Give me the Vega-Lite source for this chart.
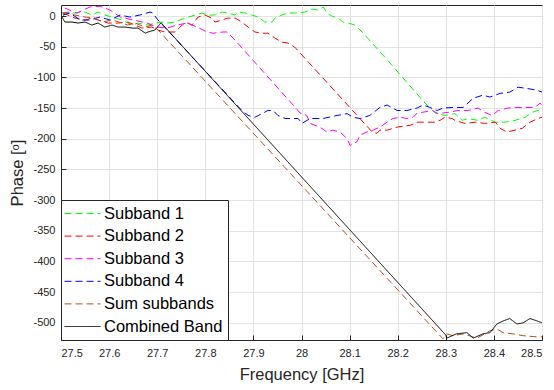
{
"$schema": "https://vega.github.io/schema/vega-lite/v6.json",
"width": 481, "height": 335,
"autosize": "none",
"padding": {"left": 61, "top": 5, "right": 12, "bottom": 50},
"config": {"font": "Liberation Sans", "view": {"stroke": "#262626", "strokeWidth": 1},
  "axis": {"domainColor": "#262626", "tickColor": "#262626", "labelColor": "#262626", "titleColor": "#262626", "labelFontSize": 11, "titleFontSize": 16.5, "titleFontWeight": "normal", "gridColor": "#E3E3E3", "tickSize": -5}},
"datasets": {"d": [
{"s":"Subband 1","f":27.504,"p":1.6},{"s":"Subband 1","f":27.519,"p":6.5},{"s":"Subband 1","f":27.529,"p":4.9},{"s":"Subband 1","f":27.55,"p":6.5},{"s":"Subband 1","f":27.564,"p":1.6},{"s":"Subband 1","f":27.577,"p":6.5},{"s":"Subband 1","f":27.591,"p":1.6},{"s":"Subband 1","f":27.606,"p":-1.6},{"s":"Subband 1","f":27.627,"p":-6.5},{"s":"Subband 1","f":27.648,"p":-14.7},{"s":"Subband 1","f":27.66,"p":-11.4},{"s":"Subband 1","f":27.681,"p":-14.7},{"s":"Subband 1","f":27.695,"p":-11.4},{"s":"Subband 1","f":27.71,"p":-9.8},{"s":"Subband 1","f":27.722,"p":-11.4},{"s":"Subband 1","f":27.737,"p":-9.8},{"s":"Subband 1","f":27.747,"p":-6.5},{"s":"Subband 1","f":27.758,"p":-3.3},{"s":"Subband 1","f":27.779,"p":1.6},{"s":"Subband 1","f":27.793,"p":4.9},{"s":"Subband 1","f":27.806,"p":1.6},{"s":"Subband 1","f":27.82,"p":1.6},{"s":"Subband 1","f":27.835,"p":6.5},{"s":"Subband 1","f":27.847,"p":4.9},{"s":"Subband 1","f":27.862,"p":1.6},{"s":"Subband 1","f":27.868,"p":6.5},{"s":"Subband 1","f":27.883,"p":4.9},{"s":"Subband 1","f":27.897,"p":1.6},{"s":"Subband 1","f":27.91,"p":-1.6},{"s":"Subband 1","f":27.924,"p":-9.8},{"s":"Subband 1","f":27.939,"p":-9.8},{"s":"Subband 1","f":27.945,"p":-3.3},{"s":"Subband 1","f":27.959,"p":1.6},{"s":"Subband 1","f":27.972,"p":4.9},{"s":"Subband 1","f":27.986,"p":4.9},{"s":"Subband 1","f":28.007,"p":6.5},{"s":"Subband 1","f":28.022,"p":11.4},{"s":"Subband 1","f":28.034,"p":9.8},{"s":"Subband 1","f":28.045,"p":14.7},{"s":"Subband 1","f":28.053,"p":4.9},{"s":"Subband 1","f":28.063,"p":0},{"s":"Subband 1","f":28.076,"p":-3.3},{"s":"Subband 1","f":28.086,"p":-9.8},{"s":"Subband 1","f":28.097,"p":-11.4},{"s":"Subband 1","f":28.111,"p":-14.7},{"s":"Subband 1","f":28.126,"p":-26},{"s":"Subband 1","f":28.18,"p":-73},{"s":"Subband 1","f":28.257,"p":-142},{"s":"Subband 1","f":28.278,"p":-158},{"s":"Subband 1","f":28.298,"p":-162},{"s":"Subband 1","f":28.319,"p":-159},{"s":"Subband 1","f":28.334,"p":-170},{"s":"Subband 1","f":28.346,"p":-167},{"s":"Subband 1","f":28.367,"p":-170},{"s":"Subband 1","f":28.381,"p":-165},{"s":"Subband 1","f":28.403,"p":-173},{"s":"Subband 1","f":28.423,"p":-173},{"s":"Subband 1","f":28.444,"p":-170},{"s":"Subband 1","f":28.465,"p":-165},{"s":"Subband 1","f":28.479,"p":-157},{"s":"Subband 1","f":28.492,"p":-154},{"s":"Subband 1","f":28.5,"p":-150},
{"s":"Subband 2","f":27.504,"p":4.9},{"s":"Subband 2","f":27.529,"p":-3.3},{"s":"Subband 2","f":27.55,"p":-6.5},{"s":"Subband 2","f":27.564,"p":-3.3},{"s":"Subband 2","f":27.577,"p":-6.5},{"s":"Subband 2","f":27.598,"p":-11.4},{"s":"Subband 2","f":27.619,"p":-11.4},{"s":"Subband 2","f":27.639,"p":-9.8},{"s":"Subband 2","f":27.654,"p":-14.7},{"s":"Subband 2","f":27.668,"p":-19.6},{"s":"Subband 2","f":27.689,"p":-18},{"s":"Subband 2","f":27.702,"p":-22.9},{"s":"Subband 2","f":27.716,"p":-26},{"s":"Subband 2","f":27.737,"p":-26},{"s":"Subband 2","f":27.752,"p":-14.7},{"s":"Subband 2","f":27.764,"p":-11.4},{"s":"Subband 2","f":27.772,"p":-14.7},{"s":"Subband 2","f":27.785,"p":-1.6},{"s":"Subband 2","f":27.799,"p":1.6},{"s":"Subband 2","f":27.814,"p":-3.3},{"s":"Subband 2","f":27.82,"p":-9.8},{"s":"Subband 2","f":27.835,"p":-6.5},{"s":"Subband 2","f":27.847,"p":-3.3},{"s":"Subband 2","f":27.862,"p":-3.3},{"s":"Subband 2","f":27.876,"p":-9.8},{"s":"Subband 2","f":27.889,"p":-18},{"s":"Subband 2","f":27.903,"p":-26},{"s":"Subband 2","f":27.918,"p":-28},{"s":"Subband 2","f":27.93,"p":-28},{"s":"Subband 2","f":27.945,"p":-36},{"s":"Subband 2","f":27.959,"p":-42.5},{"s":"Subband 2","f":27.972,"p":-44},{"s":"Subband 2","f":27.986,"p":-50.7},{"s":"Subband 2","f":28.147,"p":-189},{"s":"Subband 2","f":28.157,"p":-191},{"s":"Subband 2","f":28.163,"p":-186},{"s":"Subband 2","f":28.178,"p":-186},{"s":"Subband 2","f":28.199,"p":-181},{"s":"Subband 2","f":28.226,"p":-178},{"s":"Subband 2","f":28.242,"p":-173},{"s":"Subband 2","f":28.257,"p":-173},{"s":"Subband 2","f":28.278,"p":-173},{"s":"Subband 2","f":28.288,"p":-170},{"s":"Subband 2","f":28.298,"p":-165},{"s":"Subband 2","f":28.313,"p":-167},{"s":"Subband 2","f":28.319,"p":-170},{"s":"Subband 2","f":28.34,"p":-175},{"s":"Subband 2","f":28.361,"p":-173},{"s":"Subband 2","f":28.381,"p":-175},{"s":"Subband 2","f":28.403,"p":-173},{"s":"Subband 2","f":28.413,"p":-183},{"s":"Subband 2","f":28.427,"p":-189},{"s":"Subband 2","f":28.444,"p":-186},{"s":"Subband 2","f":28.459,"p":-183},{"s":"Subband 2","f":28.475,"p":-173},{"s":"Subband 2","f":28.492,"p":-167},{"s":"Subband 2","f":28.5,"p":-165},
{"s":"Subband 3","f":27.508,"p":13},{"s":"Subband 3","f":27.533,"p":4.9},{"s":"Subband 3","f":27.56,"p":14.7},{"s":"Subband 3","f":27.581,"p":16},{"s":"Subband 3","f":27.602,"p":9.8},{"s":"Subband 3","f":27.623,"p":-1.6},{"s":"Subband 3","f":27.65,"p":-6.5},{"s":"Subband 3","f":27.679,"p":-11.4},{"s":"Subband 3","f":27.7,"p":-18},{"s":"Subband 3","f":27.72,"p":-19.6},{"s":"Subband 3","f":27.741,"p":-14.7},{"s":"Subband 3","f":27.762,"p":-11.4},{"s":"Subband 3","f":27.783,"p":-18},{"s":"Subband 3","f":27.804,"p":-26},{"s":"Subband 3","f":27.816,"p":-28},{"s":"Subband 3","f":27.837,"p":-26},{"s":"Subband 3","f":27.845,"p":-26},{"s":"Subband 3","f":27.858,"p":-36},{"s":"Subband 3","f":27.986,"p":-148},{"s":"Subband 3","f":27.997,"p":-158},{"s":"Subband 3","f":28.011,"p":-162},{"s":"Subband 3","f":28.018,"p":-175},{"s":"Subband 3","f":28.038,"p":-181},{"s":"Subband 3","f":28.053,"p":-189},{"s":"Subband 3","f":28.065,"p":-186},{"s":"Subband 3","f":28.08,"p":-189},{"s":"Subband 3","f":28.095,"p":-200},{"s":"Subband 3","f":28.101,"p":-211},{"s":"Subband 3","f":28.115,"p":-205},{"s":"Subband 3","f":28.122,"p":-194},{"s":"Subband 3","f":28.136,"p":-189},{"s":"Subband 3","f":28.149,"p":-186},{"s":"Subband 3","f":28.163,"p":-181},{"s":"Subband 3","f":28.178,"p":-173},{"s":"Subband 3","f":28.19,"p":-167},{"s":"Subband 3","f":28.205,"p":-165},{"s":"Subband 3","f":28.219,"p":-167},{"s":"Subband 3","f":28.232,"p":-165},{"s":"Subband 3","f":28.242,"p":-157},{"s":"Subband 3","f":28.251,"p":-157},{"s":"Subband 3","f":28.272,"p":-154},{"s":"Subband 3","f":28.284,"p":-159},{"s":"Subband 3","f":28.305,"p":-157},{"s":"Subband 3","f":28.325,"p":-154},{"s":"Subband 3","f":28.346,"p":-154},{"s":"Subband 3","f":28.367,"p":-150},{"s":"Subband 3","f":28.381,"p":-157},{"s":"Subband 3","f":28.396,"p":-162},{"s":"Subband 3","f":28.409,"p":-154},{"s":"Subband 3","f":28.429,"p":-150},{"s":"Subband 3","f":28.45,"p":-149},{"s":"Subband 3","f":28.471,"p":-149},{"s":"Subband 3","f":28.485,"p":-149},{"s":"Subband 3","f":28.496,"p":-142},{"s":"Subband 3","f":28.5,"p":-145},
{"s":"Subband 4","f":27.504,"p":1.6},{"s":"Subband 4","f":27.519,"p":4.9},{"s":"Subband 4","f":27.54,"p":-6.5},{"s":"Subband 4","f":27.56,"p":-6.5},{"s":"Subband 4","f":27.581,"p":-1.6},{"s":"Subband 4","f":27.602,"p":-6.5},{"s":"Subband 4","f":27.623,"p":1.6},{"s":"Subband 4","f":27.643,"p":-1.6},{"s":"Subband 4","f":27.664,"p":1.6},{"s":"Subband 4","f":27.685,"p":6.5},{"s":"Subband 4","f":27.691,"p":4.9},{"s":"Subband 4","f":27.7,"p":-5},{"s":"Subband 4","f":27.876,"p":-154},{"s":"Subband 4","f":27.889,"p":-162},{"s":"Subband 4","f":27.903,"p":-165},{"s":"Subband 4","f":27.918,"p":-159},{"s":"Subband 4","f":27.93,"p":-154},{"s":"Subband 4","f":27.941,"p":-154},{"s":"Subband 4","f":27.951,"p":-162},{"s":"Subband 4","f":27.966,"p":-167},{"s":"Subband 4","f":27.98,"p":-167},{"s":"Subband 4","f":27.993,"p":-167},{"s":"Subband 4","f":28.001,"p":-175},{"s":"Subband 4","f":28.018,"p":-167},{"s":"Subband 4","f":28.045,"p":-167},{"s":"Subband 4","f":28.074,"p":-162},{"s":"Subband 4","f":28.095,"p":-159},{"s":"Subband 4","f":28.107,"p":-165},{"s":"Subband 4","f":28.122,"p":-167},{"s":"Subband 4","f":28.142,"p":-162},{"s":"Subband 4","f":28.163,"p":-149},{"s":"Subband 4","f":28.178,"p":-145},{"s":"Subband 4","f":28.199,"p":-154},{"s":"Subband 4","f":28.219,"p":-154},{"s":"Subband 4","f":28.24,"p":-150},{"s":"Subband 4","f":28.253,"p":-145},{"s":"Subband 4","f":28.267,"p":-149},{"s":"Subband 4","f":28.282,"p":-154},{"s":"Subband 4","f":28.294,"p":-150},{"s":"Subband 4","f":28.315,"p":-149},{"s":"Subband 4","f":28.336,"p":-149},{"s":"Subband 4","f":28.357,"p":-134},{"s":"Subband 4","f":28.377,"p":-129},{"s":"Subband 4","f":28.392,"p":-132},{"s":"Subband 4","f":28.413,"p":-126},{"s":"Subband 4","f":28.433,"p":-124},{"s":"Subband 4","f":28.45,"p":-116},{"s":"Subband 4","f":28.469,"p":-118},{"s":"Subband 4","f":28.49,"p":-121},{"s":"Subband 4","f":28.5,"p":-124},
{"s":"Sum subbands","f":27.502,"p":4.9},{"s":"Sum subbands","f":27.515,"p":6.5},{"s":"Sum subbands","f":27.529,"p":1.6},{"s":"Sum subbands","f":27.55,"p":-1.6},{"s":"Sum subbands","f":27.571,"p":-3.3},{"s":"Sum subbands","f":27.585,"p":-9.8},{"s":"Sum subbands","f":27.606,"p":-6.5},{"s":"Sum subbands","f":27.627,"p":-11.4},{"s":"Sum subbands","f":27.639,"p":-14.7},{"s":"Sum subbands","f":27.654,"p":-11.4},{"s":"Sum subbands","f":27.675,"p":-18},{"s":"Sum subbands","f":27.689,"p":-14.7},{"s":"Sum subbands","f":27.702,"p":-22.9},{"s":"Sum subbands","f":28.294,"p":-526},{"s":"Sum subbands","f":28.302,"p":-518},{"s":"Sum subbands","f":28.315,"p":-521},{"s":"Sum subbands","f":28.336,"p":-518},{"s":"Sum subbands","f":28.365,"p":-525},{"s":"Sum subbands","f":28.392,"p":-513},{"s":"Sum subbands","f":28.406,"p":-510},{"s":"Sum subbands","f":28.419,"p":-516},{"s":"Sum subbands","f":28.44,"p":-518},{"s":"Sum subbands","f":28.461,"p":-521},{"s":"Sum subbands","f":28.49,"p":-523},{"s":"Sum subbands","f":28.5,"p":-523},
{"s":"Combined Band","f":27.502,"p":-1.6},{"s":"Combined Band","f":27.508,"p":-9.8},{"s":"Combined Band","f":27.523,"p":-9.8},{"s":"Combined Band","f":27.535,"p":-11.4},{"s":"Combined Band","f":27.55,"p":-9.8},{"s":"Combined Band","f":27.564,"p":-14.7},{"s":"Combined Band","f":27.577,"p":-11.4},{"s":"Combined Band","f":27.591,"p":-18},{"s":"Combined Band","f":27.606,"p":-14.7},{"s":"Combined Band","f":27.619,"p":-18},{"s":"Combined Band","f":27.633,"p":-18},{"s":"Combined Band","f":27.648,"p":-19.6},{"s":"Combined Band","f":27.66,"p":-19.6},{"s":"Combined Band","f":27.675,"p":-27.8},{"s":"Combined Band","f":27.681,"p":-26},{"s":"Combined Band","f":27.695,"p":-22.9},{"s":"Combined Band","f":27.708,"p":-11},{"s":"Combined Band","f":28.3,"p":-520},{"s":"Combined Band","f":28.302,"p":-525},{"s":"Combined Band","f":28.322,"p":-518},{"s":"Combined Band","f":28.344,"p":-516},{"s":"Combined Band","f":28.357,"p":-525},{"s":"Combined Band","f":28.377,"p":-518},{"s":"Combined Band","f":28.392,"p":-516},{"s":"Combined Band","f":28.406,"p":-502},{"s":"Combined Band","f":28.419,"p":-497},{"s":"Combined Band","f":28.433,"p":-493},{"s":"Combined Band","f":28.448,"p":-502},{"s":"Combined Band","f":28.461,"p":-500},{"s":"Combined Band","f":28.475,"p":-493},{"s":"Combined Band","f":28.49,"p":-497},{"s":"Combined Band","f":28.5,"p":-500}
]},
"data": {"name": "d"},
"mark": {"type": "line", "strokeWidth": 1, "clip": true},
"encoding": {
  "x": {"field": "f", "type": "quantitative", "scale": {"domain": [27.5, 28.5], "nice": false, "zero": false},
    "axis": {"title": "Frequency [GHz]", "values": [27.5,27.6,27.7,27.8,27.9,28,28.1,28.2,28.3,28.4,28.5], "format": ".1~f", "labelPadding": 12, "titlePadding": 8}},
  "y": {"field": "p", "type": "quantitative", "scale": {"domain": [-528, 18], "nice": false, "zero": false},
    "axis": {"title": "Phase [ᵒ]", "values": [-500,-450,-400,-350,-300,-250,-200,-150,-100,-50,0], "labelExpr": "'' + datum.value", "labelPadding": 11, "titlePadding": 7}},
  "color": {"field": "s", "type": "nominal",
    "scale": {"domain": ["Subband 1","Subband 2","Subband 3","Subband 4","Sum subbands","Combined Band"], "range": ["#00FF00","#FF0000","#FF00FF","#0000FF","#B0501E","#000000"]},
    "legend": {"title": null, "orient": "bottom-left", "offset": 0, "strokeColor": "#262626", "fillColor": "white", "padding": 5, "labelFontSize": 16.5, "labelColor": "#000000", "symbolType": "M-1.25,0H3.25", "symbolSize": 256, "symbolStrokeWidth": 1, "rowPadding": 5.6, "labelOffset": 21, "labelLimit": 200}},
  "strokeDash": {"field": "s", "type": "nominal",
    "scale": {"domain": ["Subband 1","Subband 2","Subband 3","Subband 4","Sum subbands","Combined Band"], "range": [[7,4],[7,4],[7,4],[7,4],[7,4],[1,0]]},
    "legend": {"title": null}}
}
}
